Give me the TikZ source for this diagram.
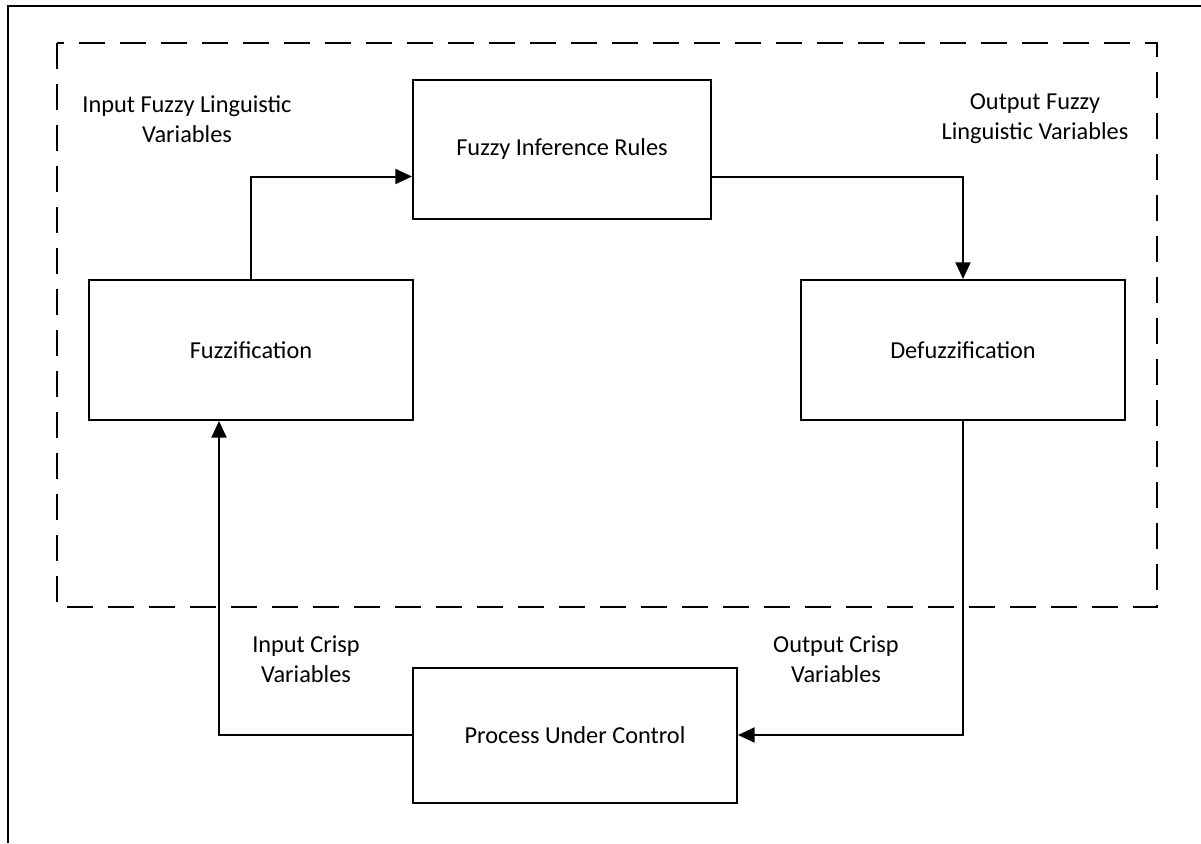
\documentclass[tikz,border=0pt]{standalone}
\usepackage{fontspec}
\setmainfont{Carlito}
\usetikzlibrary{arrows.meta}

\begin{document}
\begin{tikzpicture}[x = 0.6pt, y = -0.6pt, font = \fontsize{14.6}{18}\selectfont]
\tikzstyle{boxStyle}=[draw, line width = 1.2pt, rectangle, minimum width = 194.4pt, minimum height = 84pt, inner sep = 0pt]
\tikzstyle{labelStyle}=[align = center, inner sep = 0pt]
\tikzstyle{EdgeStyle}=[line width = 1.2pt, -{Triangle[length = 10pt, width = 9pt]}]
\useasboundingbox (0,0) rectangle (1201,843);
% frame and fuzzy controller
\draw [line width = 1.5pt] (8,843) -- (8,6) -- (1201,6);
\draw [line width = 1.2pt, dash pattern = on 15.6pt off 9pt] (57,43) rectangle (1157,607);
\node[boxStyle] (v0) at (251,350) {Fuzzification};
\node[boxStyle, minimum width = 178.8pt, minimum height = 83.4pt] (v1) at (562,149.5) {Fuzzy Inference Rules};
\node[boxStyle] (v2) at (963,350) {Defuzzification};
\node[boxStyle, minimum height = 81pt] (v3) at (575,735) {Process Under Control};
\node[labelStyle] (l0) at (187,119) {Input Fuzzy Linguistic\\Variables};
\node[labelStyle] (l1) at (1035,119) {Output Fuzzy\\Linguistic Variables};
\node[labelStyle] (l2) at (306,659) {Input Crisp\\Variables};
\node[labelStyle] (l3) at (836,659) {Output Crisp\\Variables};
\draw[EdgeStyle] (v0.north) |- ([yshift = -16.2pt]v1.west);
\draw[EdgeStyle] ([yshift = -16.2pt]v1.east) -| (v2.north);
\draw[EdgeStyle] (v2.south) |- (v3.east);
\draw[EdgeStyle] (v3.west) -| ([xshift = -19.2pt]v0.south);
\end{tikzpicture}
\end{document}
